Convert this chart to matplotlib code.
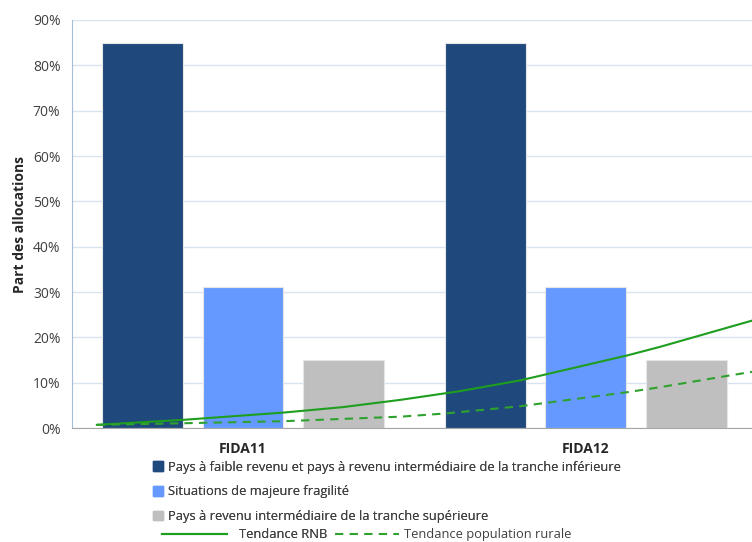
import matplotlib.pyplot as plt
import numpy as np
from matplotlib.patches import Patch
from matplotlib.lines import Line2D

plt.rcParams['font.family'] = ['Open Sans', 'DejaVu Sans']

# data
categories = ['FIDA11', 'FIDA12']
series_names = ['Pays à faible revenu et pays à revenu intermédiaire de la tranche inférieure',
                'Situations de majeure fragilité',
                'Pays à revenu intermédiaire de la tranche supérieure']
series_values = [[85, 85], [31, 31], [15, 15]]
series_colors = ['#1F497D', '#6699FF', '#BFBFBF']

# trend lines (x in category units, y in %)
rnb_x = [-0.426, -0.175, 0.117, 0.29, 0.458, 0.63, 0.808, 1.12, 1.216, 1.485]
rnb_y = [0.7, 1.8, 3.4, 4.6, 6.2, 8.1, 10.5, 16.0, 17.9, 23.7]
rural_x = [-0.426, -0.309, 0.117, 0.458, 0.589, 0.808, 1.12, 1.216, 1.412, 1.485]
rural_y = [0.7, 0.85, 1.5, 2.5, 3.2, 4.8, 7.9, 9.0, 11.5, 12.4]

fig = plt.figure(figsize=(7.52, 5.42), dpi=100)
ax = fig.add_axes([0.0951, 0.2103, 0.912, 0.7528])

x = np.arange(len(categories))
width = 0.236
step = 0.294
for i, (vals, col) in enumerate(zip(series_values, series_colors)):
    ax.bar(x + (i - 1) * step, vals, width, color=col, edgecolor='#E6E6E6',
           linewidth=0.8, zorder=2)

ax.plot(rnb_x, rnb_y, color='#1E9E1E', lw=1.5, zorder=3)
ax.plot(rural_x, rural_y, color='#2EA22E', lw=1.5, ls=(0, (4, 3)), zorder=3)

ax.set_xlim(-0.5, 1.5)
ax.set_ylim(0, 90)
ax.set_yticks(range(0, 91, 10))
ax.set_yticklabels([f'{v}%' for v in range(0, 91, 10)], fontsize=10, color='#404040')
ax.set_xticks(x)
ax.set_xticklabels(categories, fontsize=10, fontweight='bold', color='#262626')
ax.tick_params(axis='both', length=0)
ax.tick_params(axis='y', pad=8)
ax.tick_params(axis='x', pad=10)
ax.grid(axis='y', color='#D9E2F0', lw=1, zorder=0)
ax.set_axisbelow(True)
for s in ['top', 'right']:
    ax.spines[s].set_visible(False)
ax.spines['left'].set_color('#A6BDD7')
ax.spines['bottom'].set_color('#A6A6A6')

ax.set_ylabel('Part des allocations', fontsize=10, fontweight='bold', color='#262626', labelpad=4)

handles = [Patch(color=c) for c in series_colors]
leg1 = fig.legend(handles, series_names, loc='upper left', bbox_to_anchor=(0.204, 0.150),
                  frameon=False, fontsize=9.3, handlelength=0.75, handleheight=0.75,
                  handletextpad=0.4, labelspacing=0.9, borderaxespad=0, borderpad=0)
for t in leg1.get_texts():
    t.set_color('#404040')

leg2 = fig.legend([Line2D([], [], color='#1E9E1E', lw=1.5)], ['Tendance RNB'],
                  loc='upper left', bbox_to_anchor=(0.216, 0.025), frameon=False, fontsize=9.3,
                  handlelength=5.0, handletextpad=0.9, borderaxespad=0, borderpad=0)
leg3 = fig.legend([Line2D([], [], color='#2EA22E', lw=1.5, ls=(0, (4, 3)))],
                  ['Tendance population rurale'],
                  loc='upper left', bbox_to_anchor=(0.445, 0.025), frameon=False, fontsize=9.3,
                  handlelength=5.0, handletextpad=0.4, borderaxespad=0, borderpad=0)
for lg in (leg2, leg3):
    for t in lg.get_texts():
        t.set_color('#404040')
fig.add_artist(leg1)
fig.add_artist(leg2)

fig.savefig('out.png', dpi=100)
